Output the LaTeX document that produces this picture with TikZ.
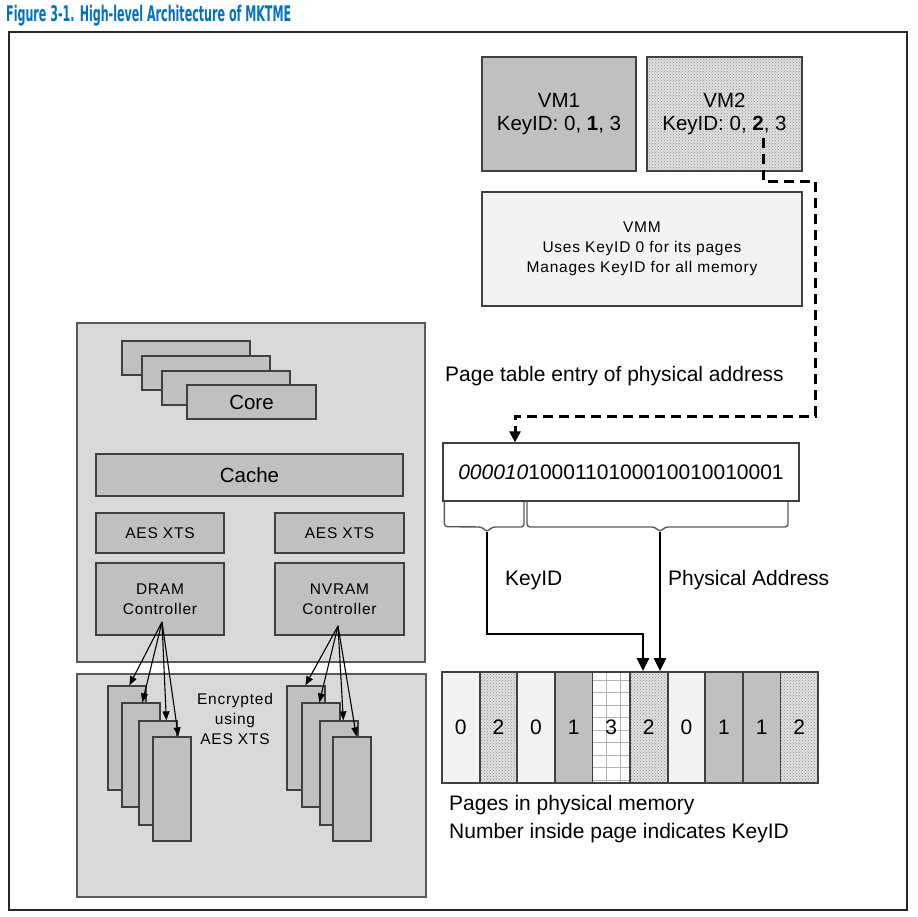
\documentclass[tikz,border=0pt]{standalone}
\usepackage{fontspec}
\usepackage{graphicx}
\setmainfont{Liberation Sans}
\newfontfamily\titlefont{DejaVu Sans}
\newfontfamily\spacedfont[LetterSpace=5]{Liberation Sans}
\usetikzlibrary{arrows.meta,patterns,calc}
\definecolor{intelblue}{HTML}{0071C5}
\definecolor{panelgray}{HTML}{D9D9D9}
\definecolor{midgray}{HTML}{C0C0C0}
\definecolor{palegray}{HTML}{F2F2F2}
\definecolor{edgegray}{HTML}{404040}
\begin{document}
\begin{tikzpicture}[x=1pt,y=-1pt,
  box/.style={draw=edgegray, line width=1.3pt, inner sep=0pt, align=center, text=black},
  blk/.style={box, fill=midgray},
  panel/.style={draw=black!65, line width=1.4pt, fill=panelgray, inner sep=0pt},
  bigtext/.style={font=\fontsize{20.5}{23}\selectfont},
  smalltext/.style={font=\spacedfont\fontsize{15.5}{20}\selectfont},
  dotty/.style={preaction={fill=black!12}, pattern=crosshatch dots, pattern color=black!45},
  page/.style={draw=edgegray, line width=1.8pt, minimum width=37.6pt, minimum height=111pt, inner sep=0pt, font=\fontsize{21}{23}\selectfont},
  pzero/.style={page, fill=palegray},
  pone/.style={page, fill=midgray},
  ptwo/.style={page, dotty},
  pthree/.style={page, fill=white, path picture={
      \foreach \dx in {14,28}
        \draw[black!30, line width=1pt] ([xshift=\dx pt]path picture bounding box.north west) -- ([xshift=\dx pt]path picture bounding box.south west);
      \foreach \dy in {8,20.5,33,45.5,58,70.5,83,95.5,108}
        \draw[black!30, line width=1pt] ([yshift=-\dy pt]path picture bounding box.north west) -- ([yshift=-\dy pt]path picture bounding box.north east);
    }},
  modarrow/.style={draw=black, line width=1.1pt, -{Triangle[length=9pt,width=7pt]}},
  bigarrow/.style={draw=black, line width=2.8pt, -{Triangle[length=13pt,width=12pt]}},
  dasharrow/.style={draw=black, line width=3pt, dash pattern=on 10pt off 6pt, -{Triangle[length=11pt,width=11pt]}},
  brace/.style={draw=black!65, line width=1.4pt, rounded corners=3pt},
  label/.style={font=\fontsize{21}{23}\selectfont, inner sep=0pt, text=black}
]
\useasboundingbox (0,0) rectangle (918,916);

% title and frame
\node[anchor=base west, inner sep=0pt, text=intelblue, font=\titlefont\bfseries\fontsize{21.5}{24}\selectfont] (title) at (6,21)
  {\resizebox{285pt}{\height}{Figure 3-1. High-level Architecture of MKTME}};
\node[draw=black!85, line width=1.5pt, minimum width=898pt, minimum height=878pt, inner sep=0pt] (outer) at (458,471) {};

% processor package
\node[panel, minimum width=348pt, minimum height=339pt] (cpu) at (251,492.5) {};
\node[blk, minimum width=128pt, minimum height=34pt] (c1) at (186,358) {};
\node[blk, minimum width=128pt, minimum height=34pt] (c2) at (206,373) {};
\node[blk, minimum width=128pt, minimum height=34pt] (c3) at (226,388) {};
\node[blk, bigtext, minimum width=129pt, minimum height=34pt] (c4) at (251.5,402) {Core};
\node[blk, bigtext, minimum width=307pt, minimum height=42pt] (cache) at (249.5,475) {Cache};
\node[blk, smalltext, minimum width=128pt, minimum height=40pt] (aesl) at (160,533) {AES XTS};
\node[blk, smalltext, minimum width=129pt, minimum height=40pt] (aesr) at (339.5,533) {AES XTS};
\node[blk, smalltext, minimum width=128pt, minimum height=72pt] (dram) at (160,599) {DRAM\\Controller};
\node[blk, smalltext, minimum width=129pt, minimum height=72pt] (nvram) at (339.5,599) {NVRAM\\Controller};

% memory package
\node[panel, minimum width=349pt, minimum height=223pt] (mem) at (251.5,785.5) {};
\node[blk, minimum width=38pt, minimum height=104pt] (m1) at (127,738) {};
\node[blk, minimum width=38pt, minimum height=104pt] (m2) at (141,755) {};
\node[blk, minimum width=38pt, minimum height=104pt] (m3) at (158,773) {};
\node[blk, minimum width=38pt, minimum height=104pt] (m4) at (172,789) {};
\node[blk, minimum width=38pt, minimum height=104pt] (n1) at (306,738) {};
\node[blk, minimum width=38pt, minimum height=104pt] (n2) at (321,755) {};
\node[blk, minimum width=38pt, minimum height=104pt] (n3) at (339,773) {};
\node[blk, minimum width=38pt, minimum height=104pt] (n4) at (352,789) {};
\node[smalltext, align=center, inner sep=0pt] (enc) at (235,719) {Encrypted\\using\\AES XTS};

\coordinate (dsrc) at (162,622);
\coordinate (nsrc) at (338,626);
\draw[modarrow] (dsrc) -- ([xshift=22pt]m1.north west);
\draw[modarrow] (dsrc) -- ([xshift=21pt]m2.north west);
\draw[modarrow] (dsrc) -- ([xshift=28pt]m3.north west);
\draw[modarrow] (dsrc) -- ([xshift=26pt]m4.north west);
\draw[modarrow] (nsrc) -- ([xshift=19pt]n1.north west);
\draw[modarrow] (nsrc) -- ([xshift=18pt]n2.north west);
\draw[modarrow] (nsrc) -- ([xshift=24pt]n3.north west);
\draw[modarrow] (nsrc) -- ([xshift=24pt]n4.north west);

% virtual machines and VMM
\node[blk, bigtext, minimum width=154pt, minimum height=114pt] (vm1) at (559,114) {VM1\\KeyID: 0, \textbf{1}, 3};
\node[box, dotty, bigtext, minimum width=155pt, minimum height=114pt] (vm2) at (724.5,114) {VM2\\KeyID: 0, \textbf{2}, 3};
\node[box, fill=palegray, smalltext, minimum width=320pt, minimum height=114pt] (vmm) at (642,249)
  {VMM\\Uses KeyID 0 for its pages\\Manages KeyID for all memory};

% page table entry
\node[label, anchor=west] (ptelabel) at (445,376) {Page table entry of physical address};
\node[box, fill=white, font=\fontsize{21}{23}\selectfont, minimum width=356pt, minimum height=58pt] (pte) at (621,472)
  {\textit{000010}1000110100010010010001};

% dashed connector from VM2 to PTE
\coordinate (d0) at (763,138);
\coordinate (d1) at (815,181);
\coordinate (d2) at (515,416);
\draw[dasharrow] (d0) |- (d1) |- (d2) -- (d2 |- pte.north);

% braces
\coordinate (kb) at (487,532);
\coordinate (pb) at (660,532);
\draw[brace] ([xshift=2pt]pte.south west) -- ++(0,25) -- ($(kb)+(-5,-5)$) -- (kb) -- ($(kb)+(5,-5)$) -- (524,527) -- (524,502);
\draw[brace] (527,502) -- (527,527) -- ($(pb)+(-5,-5)$) -- (pb) -- ($(pb)+(5,-5)$) -- (788,527) -- (788,502);

% physical memory pages
\node[pzero]  (p1)  at (460.8,727.5) {0};
\node[ptwo]   (p2)  at (498.4,727.5) {2};
\node[pzero]  (p3)  at (536.0,727.5) {0};
\node[pone]   (p4)  at (573.6,727.5) {1};
\node[pthree] (p5)  at (611.2,727.5) {3};
\node[ptwo]   (p6)  at (648.8,727.5) {2};
\node[pzero]  (p7)  at (686.4,727.5) {0};
\node[pone]   (p8)  at (724.0,727.5) {1};
\node[pone]   (p9)  at (761.6,727.5) {1};
\node[ptwo]   (p10) at (799.2,727.5) {2};

% KeyID and physical address arrows
\coordinate (kturn) at (643,634);
\draw[bigarrow] (kb) |- (kturn) -- (kturn |- p6.north);
\draw[bigarrow] (pb) -- (pb |- p6.north);
\node[label, anchor=west] (keyidlabel) at (505,580) {KeyID};
\node[label, anchor=west] (palabel) at (668,580) {Physical Address};

\node[label, anchor=west] (memlabel1) at (449,805) {Pages in physical memory};
\node[label, anchor=west] (memlabel2) at (449,833) {Number inside page indicates KeyID};
\end{tikzpicture}
\end{document}
